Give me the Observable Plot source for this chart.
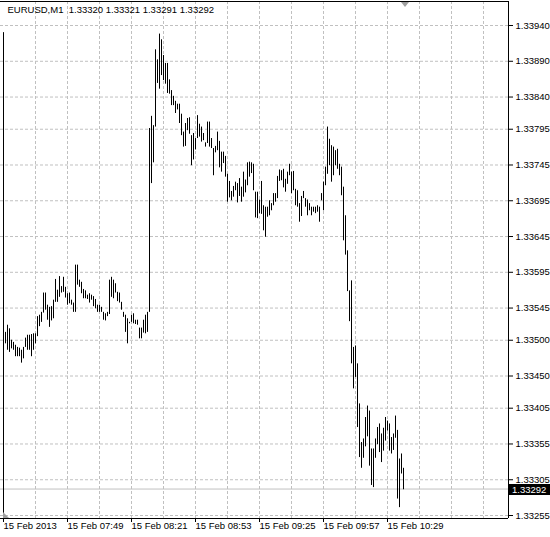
<!DOCTYPE html>
<html>
<head>
<meta charset="utf-8">
<script src="https://cdn.jsdelivr.net/npm/d3@7"></script>
<script src="https://cdn.jsdelivr.net/npm/@observablehq/plot@0.6"></script>
<style>
  html, body { margin: 0; padding: 0; background: #fff; }
  svg { display: block; }
</style>
</head>
<body>
<div id="chart"></div>
<script>
// ---- data ----
const symbol = "EURUSD";
const period = "M1";
const lastBarOHLC = [1.33320, 1.33321, 1.33291, 1.33292];
const startTime = "2013-02-15T07:17:00Z"; // first M1 bar
const highs = [
  1.33522,1.33511,1.33521,1.33516,1.33500,1.33497,1.33493,1.33490,1.33489,1.33486,
  1.33490,1.33503,1.33507,1.33507,1.33508,1.33509,1.33509,1.33533,1.33535,1.33539,
  1.33566,1.33566,1.33549,1.33546,1.33547,1.33556,1.33585,1.33570,1.33589,1.33575,
  1.33588,1.33574,1.33565,1.33566,1.33556,1.33552,1.33605,1.33605,1.33584,1.33581,
  1.33571,1.33569,1.33563,1.33565,1.33563,1.33561,1.33557,1.33549,1.33549,1.33546,
  1.33539,1.33537,1.33539,1.33584,1.33588,1.33584,1.33579,1.33567,1.33566,1.33553,
  1.33539,1.33535,1.33530,1.33525,1.33535,1.33537,1.33528,1.33528,1.33517,1.33517,
  1.33528,1.33535,1.33539,1.33796,1.33813,1.33800,1.33906,1.33892,1.33928,1.33920,
  1.33898,1.33887,1.33887,1.33864,1.33849,1.33841,1.33834,1.33830,1.33830,1.33816,
  1.33791,1.33803,1.33810,1.33811,1.33786,1.33789,1.33782,1.33814,1.33802,1.33798,
  1.33789,1.33776,1.33805,1.33805,1.33782,1.33768,1.33771,1.33791,1.33778,1.33763,
  1.33763,1.33757,1.33732,1.33722,1.33708,1.33715,1.33721,1.33719,1.33726,1.33714,
  1.33735,1.33724,1.33748,1.33749,1.33748,1.33746,1.33707,1.33707,1.33696,1.33722,
  1.33688,1.33686,1.33686,1.33695,1.33691,1.33705,1.33705,1.33729,1.33738,1.33737,
  1.33739,1.33725,1.33735,1.33746,1.33735,1.33736,1.33711,1.33709,1.33691,1.33701,
  1.33708,1.33698,1.33696,1.33691,1.33686,1.33686,1.33686,1.33688,1.33686,1.33705,
  1.33721,1.33742,1.33798,1.33781,1.33772,1.33770,1.33765,1.33767,1.33746,1.33742,
  1.33714,1.33674,1.33625,1.33569,1.33583,1.33490,1.33492,1.33467,1.33411,1.33357,
  1.33362,1.33392,1.33408,1.33401,1.33348,1.33348,1.33362,1.33378,1.33383,1.33369,
  1.33377,1.33392,1.33387,1.33383,1.33364,1.33369,1.33394,1.33374,1.33334,1.33341,
  1.33321
];
const lows = [
  1.33495,1.33495,1.33486,1.33483,1.33488,1.33486,1.33477,1.33477,1.33477,1.33468,
  1.33474,1.33490,1.33486,1.33486,1.33477,1.33486,1.33495,1.33505,1.33519,1.33525,
  1.33538,1.33542,1.33528,1.33518,1.33527,1.33530,1.33553,1.33553,1.33560,1.33566,
  1.33567,1.33559,1.33549,1.33551,1.33549,1.33539,1.33539,1.33577,1.33574,1.33565,
  1.33558,1.33558,1.33557,1.33552,1.33556,1.33547,1.33544,1.33539,1.33539,1.33539,
  1.33528,1.33527,1.33533,1.33536,1.33560,1.33558,1.33566,1.33554,1.33552,1.33542,
  1.33532,1.33511,1.33495,1.33523,1.33525,1.33523,1.33522,1.33521,1.33502,1.33502,
  1.33510,1.33509,1.33511,1.33539,1.33719,1.33748,1.33798,1.33859,1.33851,1.33870,
  1.33863,1.33858,1.33845,1.33844,1.33828,1.33828,1.33817,1.33822,1.33803,1.33786,
  1.33770,1.33771,1.33793,1.33788,1.33744,1.33752,1.33766,1.33782,1.33784,1.33777,
  1.33779,1.33770,1.33775,1.33770,1.33768,1.33730,1.33762,1.33765,1.33741,1.33735,
  1.33747,1.33728,1.33693,1.33699,1.33695,1.33700,1.33709,1.33692,1.33701,1.33693,
  1.33700,1.33706,1.33716,1.33728,1.33733,1.33709,1.33671,1.33670,1.33677,1.33676,
  1.33653,1.33644,1.33672,1.33674,1.33681,1.33688,1.33693,1.33698,1.33722,1.33723,
  1.33713,1.33707,1.33718,1.33730,1.33705,1.33709,1.33688,1.33686,1.33665,1.33673,
  1.33698,1.33686,1.33674,1.33681,1.33674,1.33679,1.33677,1.33679,1.33665,1.33695,
  1.33681,1.33716,1.33732,1.33744,1.33721,1.33730,1.33744,1.33739,1.33730,1.33702,
  1.33639,1.33619,1.33568,1.33526,1.33467,1.33432,1.33448,1.33378,1.33336,1.33321,
  1.33335,1.33351,1.33365,1.33324,1.33297,1.33294,1.33335,1.33354,1.33343,1.33329,
  1.33345,1.33359,1.33373,1.33345,1.33341,1.33346,1.33363,1.33278,1.33266,1.33313,
  1.33291
];
const yTicks = [1.33255,1.33305,1.33355,1.33405,1.33450,1.33500,1.33545,1.33595,
                1.33645,1.33695,1.33745,1.33795,1.33840,1.33890,1.33940];
const xTickTimes = ["2013-02-15T07:17:00Z","2013-02-15T07:49:00Z","2013-02-15T08:21:00Z",
                    "2013-02-15T08:53:00Z","2013-02-15T09:25:00Z","2013-02-15T09:57:00Z",
                    "2013-02-15T10:29:00Z"];
const xTickLabels = ["15 Feb 2013","15 Feb 07:49","15 Feb 08:21","15 Feb 08:53",
                     "15 Feb 09:25","15 Feb 09:57","15 Feb 10:29"];
const gridTimes = ["2013-02-15T07:33:00Z","2013-02-15T07:49:00Z","2013-02-15T08:05:00Z",
                   "2013-02-15T08:21:00Z","2013-02-15T08:37:00Z","2013-02-15T08:53:00Z",
                   "2013-02-15T09:09:00Z","2013-02-15T09:25:00Z","2013-02-15T09:41:00Z",
                   "2013-02-15T09:57:00Z","2013-02-15T10:13:00Z","2013-02-15T10:29:00Z",
                   "2013-02-15T10:45:00Z","2013-02-15T11:01:00Z","2013-02-15T11:17:00Z"];

// ---- build ----
const t0 = Date.parse(startTime);
const MIN = 60000;
const bars = highs.map((h, i) => ({t: new Date(t0 + i * MIN), high: h, low: lows[i]}));
const xDomain = [new Date(t0 - 1.5 * MIN), new Date(t0 + 252.5 * MIN)];
const yDomain = [1.3325081, 1.3397355];
const lastClose = lastBarOHLC[3];
const labelMap = new Map(xTickTimes.map((d, i) => [Date.parse(d), xTickLabels[i]]));
const title = `${symbol},${period}\u00a0 ${lastBarOHLC.map(v => v.toFixed(5)).join(" ")}`;
const gridStyle = {stroke: "#c0c0c0", strokeOpacity: 1, strokeWidth: 1, strokeDasharray: "3,2"};

const plot = Plot.plot({
  width: 550,
  height: 537,
  marginLeft: 0,
  marginRight: 42,
  marginTop: 1,
  marginBottom: 19,
  style: {fontFamily: "'Liberation Sans', Arial, sans-serif", fontSize: "9.5px", background: "#fff", color: "#000", overflow: "visible"},
  x: {type: "utc", domain: xDomain},
  y: {domain: yDomain},
  marks: [
    Plot.gridX(gridTimes.map(d => new Date(d)), gridStyle),
    Plot.gridY(yTicks, gridStyle),
    Plot.ruleY([lastClose], {stroke: "#c0c0c0", strokeWidth: 1}),
    Plot.ruleX(bars, {x: "t", y1: "low", y2: "high", stroke: "#000", strokeWidth: 1}),
    // frame
    Plot.ruleY([yDomain[1]], {stroke: "#000"}),
    Plot.ruleY([yDomain[0]], {stroke: "#000"}),
    Plot.ruleX([xDomain[1]], {stroke: "#000"}),
    Plot.ruleX([new Date(t0)], {y1: 1.33930, y2: yDomain[0], stroke: "#000"}),
    Plot.axisY(yTicks, {anchor: "right", tickSize: 4, tickPadding: 3, tickFormat: d3.format(".5f"), fontSize: 9.5, label: null}),
    Plot.axisX(xTickTimes.map(d => new Date(d)), {anchor: "bottom", tickSize: 4, tickPadding: 0, textAnchor: "start", tickFormat: d => labelMap.get(+d), fontSize: 9.5, label: null}),
    Plot.text([title], {frameAnchor: "top-left", dx: 7, dy: 5, fill: "#000", fontSize: 9.5, textAnchor: "start"})
  ]
});

// current price tag and markers, positioned via the plot's scales
const sy = plot.scale("y");
const sx = plot.scale("x");
const yc = Math.round(sy.apply(lastClose));
const svg = d3.select(plot);
const g = svg.append("g").attr("text-anchor", "start");
g.append("rect").attr("x", 509).attr("y", yc - 5).attr("width", 41).attr("height", 11).attr("fill", "#000");
g.append("text").attr("x", 512).attr("y", yc + 0.5).attr("dy", "0.32em").attr("fill", "#fff")
  .attr("text-anchor", "start").attr("font-size", 9.5).text(lastClose.toFixed(5));
const xs = Math.round(sx.apply(new Date(t0 + 201 * MIN)));
g.append("path").attr("d", `M${xs - 4},2L${xs + 4},2L${xs},7Z`).attr("fill", "#a0a0a0");
const xl = Math.round(sx.apply(new Date(t0)));
const yb = Math.round(sy.apply(yDomain[0]));
g.append("path").attr("d", `M${xl},${yb - 6}L${xl},${yb}L${xl + 6},${yb}Z`).attr("fill", "#a0a0a0");

document.getElementById("chart").appendChild(plot);
</script>
</body>
</html>
